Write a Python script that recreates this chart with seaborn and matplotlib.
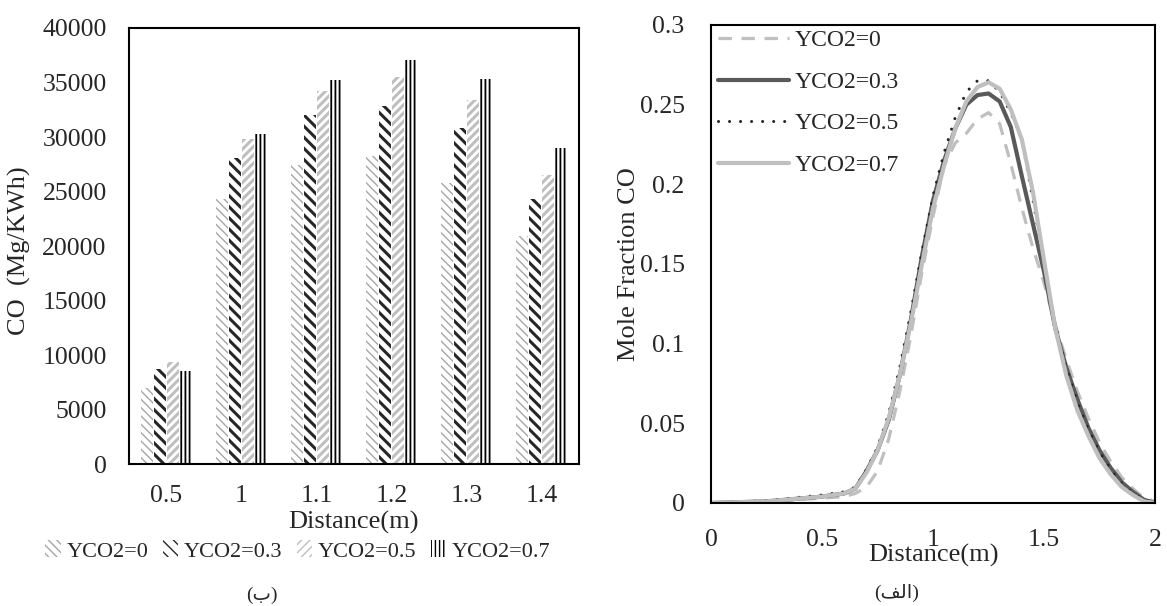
import seaborn as sns
import matplotlib.pyplot as plt
import pandas as pd
from matplotlib.ticker import FuncFormatter

# bar chart (ب): CO for each distance and YCO2
distance = ['0.5', '1', '1.1', '1.2', '1.3', '1.4']
series = ['YCO2=0', 'YCO2=0.3', 'YCO2=0.5', 'YCO2=0.7']
co_y0 = [7000, 24300, 27400, 28300, 25800, 20900]
co_y03 = [8700, 28100, 32000, 32800, 30800, 24300]
co_y05 = [9350, 29800, 34200, 35500, 33400, 26500]
co_y07 = [8500, 30300, 35200, 37100, 35300, 29000]

# line chart (الف): mole fraction of CO along the distance
dist_m = [0, 0.25, 0.5, 0.6, 0.65, 0.7, 0.75, 0.8, 0.85, 0.9, 0.95, 1.0, 1.05, 1.1, 1.15, 1.2,
          1.25, 1.3, 1.35, 1.4, 1.45, 1.5, 1.55, 1.6, 1.65, 1.7, 1.75, 1.8, 1.85, 1.9, 1.95, 2.0]
mf_y0 = [0, 0.001, 0.003, 0.004, 0.006, 0.01, 0.02, 0.04, 0.07, 0.105, 0.145, 0.18, 0.212, 0.226, 0.232, 0.241,
         0.245, 0.238, 0.213, 0.185, 0.16, 0.138, 0.112, 0.09, 0.07, 0.053, 0.038, 0.026, 0.016, 0.009, 0.003, 0.001]
mf_y03 = [0, 0.001, 0.004, 0.006, 0.009, 0.02, 0.033, 0.052, 0.08, 0.115, 0.155, 0.19, 0.215, 0.235, 0.25, 0.256,
          0.257, 0.252, 0.236, 0.205, 0.175, 0.145, 0.11, 0.085, 0.065, 0.047, 0.033, 0.022, 0.013, 0.007, 0.002, 0]
mf_y05 = [0, 0.0015, 0.005, 0.007, 0.01, 0.021, 0.035, 0.056, 0.085, 0.12, 0.158, 0.193, 0.22, 0.242, 0.258, 0.265,
          0.265, 0.258, 0.245, 0.228, 0.19, 0.15, 0.112, 0.085, 0.063, 0.046, 0.032, 0.021, 0.012, 0.006, 0.002, 0]
mf_y07 = [0, 0.001, 0.004, 0.006, 0.009, 0.019, 0.033, 0.053, 0.08, 0.113, 0.15, 0.185, 0.212, 0.235, 0.252, 0.261,
          0.264, 0.26, 0.247, 0.228, 0.195, 0.152, 0.11, 0.08, 0.058, 0.042, 0.028, 0.018, 0.01, 0.005, 0.001, 0]

sns.set_theme(style='white')
plt.rcParams['font.family'] = ['Liberation Serif', 'DejaVu Sans']
plt.rcParams['font.size'] = 16

fig = plt.figure(figsize=(11.67, 6.06), dpi=100)
ax1 = fig.add_axes([0.1105, 0.2343, 0.3856, 0.7195])
ax2 = fig.add_axes([0.6093, 0.17, 0.3805, 0.7888])

# ---- left: bars
df = pd.DataFrame({
    'Distance': distance * 4,
    'Series': [s for s in series for _ in distance],
    'CO': co_y0 + co_y03 + co_y05 + co_y07,
})
sns.barplot(data=df, x='Distance', y='CO', hue='Series', order=distance, hue_order=series,
            palette=['white'] * 4, width=0.7, gap=0.1, linewidth=0, legend=False, ax=ax1)

hatches = ['\\\\\\\\', '\\\\\\', '////', '||||']
hcolors = ['#a6a6a6', '#262626', '#bfbfbf', '#000000']
hwidths = [1.0, 2.2, 2.2, 1.3]
for cont, h, c, w in zip(ax1.containers, hatches, hcolors, hwidths):
    for p in cont.patches:
        p.set_hatch(h)
        p.set_edgecolor(c)
        if hasattr(p, 'set_hatch_linewidth'):
            p.set_hatch_linewidth(w)

ax1.set_ylim(0, 40000)
ax1.set_yticks(range(0, 40001, 5000))
ax1.set_xlabel('Distance(m)', fontsize=19)
ax1.set_ylabel('CO  (Mg/KWh)', fontsize=19)
ax1.xaxis.set_label_coords(0.5, -0.108)
ax1.yaxis.set_label_coords(-0.218, 0.49)
ax1.tick_params(axis='x', length=0, pad=15, labelsize=18.5)
ax1.tick_params(axis='y', length=0, pad=16, labelsize=18.5)
for s in ax1.spines.values():
    s.set_color('black')
    s.set_linewidth(1.5)

handles = [cont.patches[0] for cont in ax1.containers]
fig.legend(handles, series, loc='center', bbox_to_anchor=(298 / 1167, 1 - 551 / 606), ncol=4,
           frameon=False, fontsize=16, handlelength=0.7, handleheight=0.8, handletextpad=0.25,
           columnspacing=0.65, borderpad=0)

# ---- right: lines
sns.lineplot(x=dist_m, y=mf_y0, ax=ax2, color='#bfbfbf', lw=2.3, linestyle=(0, (4.2, 3)),
             label='YCO2=0')
sns.lineplot(x=dist_m, y=mf_y03, ax=ax2, color='#595959', lw=3, label='YCO2=0.3')
sns.lineplot(x=dist_m, y=mf_y05, ax=ax2, color='#262626', lw=2.2, linestyle=(0, (0.01, 3.6)),
             dash_capstyle='round', label='YCO2=0.5')
sns.lineplot(x=dist_m, y=mf_y07, ax=ax2, color='#bfbfbf', lw=3, label='YCO2=0.7')

ax2.set_xlim(0, 2)
ax2.set_ylim(0, 0.3)
ax2.set_xticks([0, 0.5, 1, 1.5, 2])
ax2.set_yticks([0, 0.05, 0.1, 0.15, 0.2, 0.25, 0.3])
fmt = FuncFormatter(lambda v, pos: '{:g}'.format(round(v, 3)))
ax2.xaxis.set_major_formatter(fmt)
ax2.yaxis.set_major_formatter(fmt)
ax2.set_xlabel('Distance(m)', fontsize=19)
ax2.set_ylabel('Mole Fraction CO', fontsize=19)
ax2.xaxis.set_label_coords(0.5, -0.085)
ax2.yaxis.set_label_coords(-0.16, 0.5)
ax2.tick_params(axis='x', length=0, pad=19, labelsize=18.5)
ax2.tick_params(axis='y', length=0, pad=19, labelsize=18.5)
for s in ax2.spines.values():
    s.set_color('black')
    s.set_linewidth(1.5)
ax2.legend(loc='upper left', bbox_to_anchor=(0.016, 0.99), frameon=False, fontsize=17,
           handlelength=3.0, handletextpad=0.25, labelspacing=0.85, borderpad=0, borderaxespad=0)

# captions (the second one is written in visual order with Arabic presentation forms,
# since matplotlib does no right-to-left shaping)
fig.text(262 / 1167, 1 - 595 / 606, '(ب)', ha='center', va='center', fontsize=14)
fig.text(897 / 1167, 1 - 593 / 606, '(\ufed2\ufedf\ufe8d)', ha='center', va='center', fontsize=14)

fig.savefig('out.png', dpi=100)
